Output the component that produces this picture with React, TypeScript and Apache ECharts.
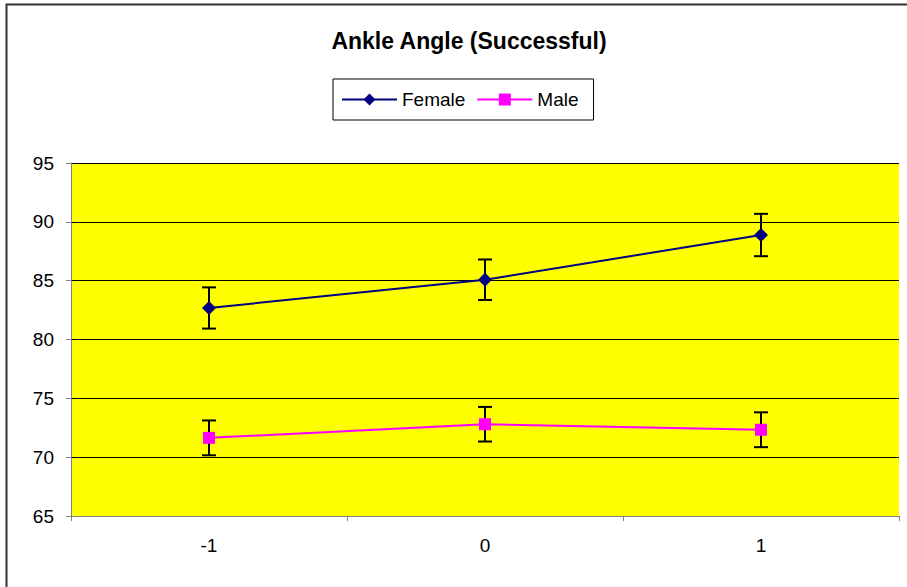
import React, { useEffect, useRef } from "react";
import * as echarts from "echarts";

const categories = ["-1", "0", "1"];
const femaleValues = [82.68, 85.08, 88.88];
const femaleErr = [1.75, 1.72, 1.8];
const maleValues = [71.64, 72.8, 72.33];
const maleErr = [1.48, 1.47, 1.48];
const yTicks = { min: 65, max: 95, interval: 5 };

const FONT = "Arial, 'Liberation Sans', sans-serif";

export default function App() {
  const ref = useRef<HTMLDivElement>(null);
  useEffect(() => {
    const chart = echarts.init(ref.current!, null, { renderer: "svg" });
    const errData = (vals: number[], errs: number[]) =>
      vals.map((v, i) => [i, v - errs[i], v + errs[i]]);
    const renderErr = (params: any, api: any) => {
      const idx = api.value(0);
      const lo = api.coord([idx, api.value(1)]);
      const hi = api.coord([idx, api.value(2)]);
      const w = 7;
      const style = { stroke: "#000", lineWidth: 2 };
      return {
        type: "group",
        children: [
          { type: "line", shape: { x1: lo[0], y1: lo[1], x2: hi[0], y2: hi[1] }, style },
          { type: "line", shape: { x1: lo[0] - w, y1: lo[1], x2: lo[0] + w, y2: lo[1] }, style },
          { type: "line", shape: { x1: hi[0] - w, y1: hi[1], x2: hi[0] + w, y2: hi[1] }, style },
        ],
      };
    };
    chart.setOption({
      animation: false,
      backgroundColor: "#fff",
      title: {
        text: "Ankle Angle (Successful)",
        left: 464,
        textAlign: "center",
        top: 24,
        textStyle: { fontFamily: FONT, fontSize: 23, fontWeight: "bold", color: "#000" },
      },
      graphic: [
        {
          type: "rect",
          shape: { x: 6.5, y: 4.5, width: 950, height: 650 },
          style: { fill: "none", stroke: "#333", lineWidth: 2 },
          silent: true,
        },
      ],
      legend: {
        left: 333,
        top: 79,
        data: ["Female", "Male"],
        itemWidth: 55,
        itemHeight: 15,
        itemGap: 11,
        padding: [11, 15, 11, 8],
        borderColor: "#000",
        borderWidth: 1,
        textStyle: { fontFamily: FONT, fontSize: 19, color: "#000", padding: [0, 0, 0, 0] },
      },
      grid: {
        left: 71,
        top: 163,
        width: 828,
        height: 353,
        show: true,
        backgroundColor: "#ffff00",
        borderColor: "#808080",
        borderWidth: 0,
      },
      xAxis: {
        type: "category",
        data: categories,
        boundaryGap: true,
        axisLine: { lineStyle: { color: "#808080", width: 1 } },
        axisTick: { show: true, alignWithLabel: false, length: 5, lineStyle: { color: "#808080" } },
        axisLabel: { fontFamily: FONT, fontSize: 19, color: "#000", margin: 20 },
        splitLine: { show: false },
      },
      yAxis: {
        type: "value",
        min: yTicks.min,
        max: yTicks.max,
        interval: yTicks.interval,
        axisLine: { show: true, lineStyle: { color: "#808080", width: 1 } },
        axisTick: { show: true, length: 5, lineStyle: { color: "#808080" } },
        axisLabel: { fontFamily: FONT, fontSize: 19, color: "#000", margin: 17 },
        splitLine: { show: true, lineStyle: { color: "#000", width: 1 } },
      },
      series: [
        {
          name: "FemaleErr",
          type: "custom",
          renderItem: renderErr,
          data: errData(femaleValues, femaleErr),
          z: 1,
          silent: true,
        },
        {
          name: "MaleErr",
          type: "custom",
          renderItem: renderErr,
          data: errData(maleValues, maleErr),
          z: 1,
          silent: true,
        },
        {
          name: "Female",
          type: "line",
          data: femaleValues,
          symbol: "diamond",
          symbolSize: 14,
          color: "#000080",
          lineStyle: { color: "#000080", width: 2 },
          itemStyle: { color: "#000080" },
          z: 3,
        },
        {
          name: "Male",
          type: "line",
          data: maleValues,
          symbol: "rect",
          symbolSize: 12,
          color: "#ff00ff",
          lineStyle: { color: "#ff00ff", width: 2 },
          itemStyle: { color: "#ff00ff" },
          z: 3,
        },
      ],
    });
    return () => chart.dispose();
  }, []);
  return (
    <div
      ref={ref}
      style={{ position: "absolute", left: 0, top: 0, width: 907, height: 587 }}
    />
  );
}
